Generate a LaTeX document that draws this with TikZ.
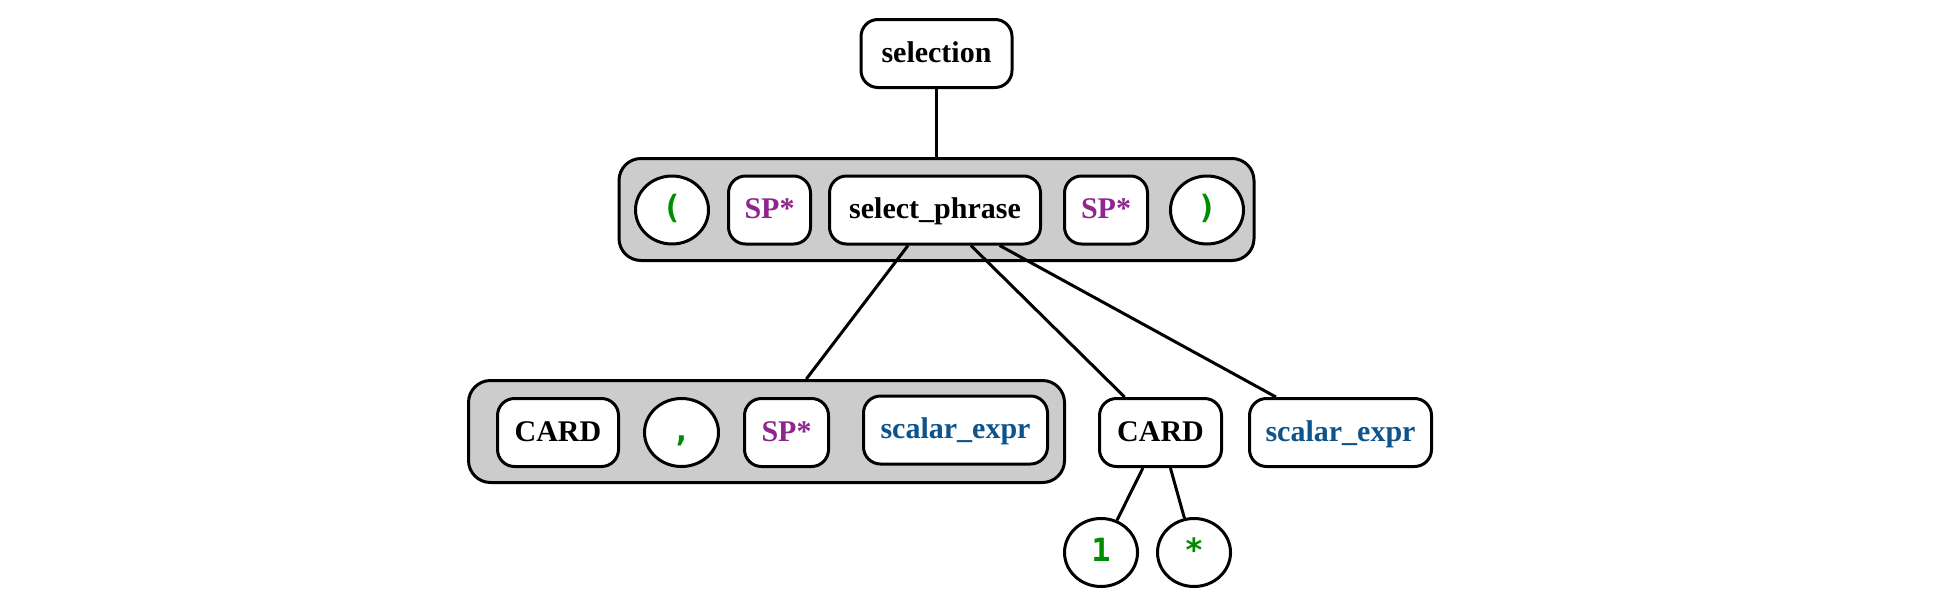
\documentclass[tikz,border=0pt]{standalone}
\usepackage{fontspec}
\setmainfont{Liberation Serif}
\newfontfamily\termfont{DejaVu Sans Mono}
\usetikzlibrary{shapes.geometric}
\definecolor{termgreen}{HTML}{008C00}
\definecolor{sppurple}{HTML}{8E268E}
\definecolor{exprblue}{HTML}{0E548C}
\definecolor{groupgray}{HTML}{CCCCCC}
\begin{document}
\begin{tikzpicture}[x=1pt,y=-1pt,
  base/.style={draw=black, line width=3pt, fill=white, inner sep=0pt,
    text height=20pt, text depth=3pt},
  rulebox/.style={base, rounded corners=17pt, minimum height=68pt,
    font=\fontsize{30}{36}\selectfont\bfseries},
  termell/.style={base, ellipse, minimum width=73pt, minimum height=68pt,
    text=termgreen, font=\fontsize{32}{38}\selectfont\termfont\bfseries},
  spbox/.style={rulebox, text=sppurple},
  exprbox/.style={rulebox, text=exprblue},
  groupbox/.style={draw=black, line width=3pt, fill=groupgray,
    rounded corners=22pt, minimum height=102pt, inner sep=0pt},
  link/.style={draw=black, line width=3pt}
]
\useasboundingbox (0,0) rectangle (1937,611);

% top
\node[rulebox, minimum width=151pt] (selection) at (936.5,53.5) {selection};

% group 1
\node[groupbox, minimum width=635pt] (g1) at (936.5,209.5) {};
\node[termell] (lpar) at (672,210) {(};
\node[spbox, minimum width=82pt] (sp1) at (769.5,210) {SP*};
\node[rulebox, minimum width=211pt] (selph) at (935,210) {select\_phrase};
\node[spbox, minimum width=83pt] (sp2) at (1106,210) {SP*};
\node[termell] (rpar) at (1207,210) {)};

% group 2
\node[groupbox, minimum width=596pt] (g2) at (766.5,431.5) {};
\node[rulebox, minimum width=121pt] (card1) at (558,432.5) {CARD};
\node[termell, minimum width=74pt] (comma) at (681.5,432.5) {,};
\node[spbox, minimum width=84pt] (sp3) at (786.5,432.5) {SP*};
\node[exprbox, minimum width=184pt] (expr1) at (955.5,430) {scalar\_expr};

% right branch
\node[rulebox, minimum width=122pt] (card2) at (1160.5,432.5) {CARD};
\node[exprbox, minimum width=182pt] (expr2) at (1340.5,432.5) {scalar\_expr};
\node[termell] (one) at (1101,552.5) {1};
\node[termell] (star) at (1194,552.5) {*};

% connectors
\draw[link] (selection) -- (g1);
\draw[link] (selph) -- (g2);
\draw[link] (selph) -- (card2);
\draw[link] (selph) -- (expr2);
\draw[link] (card2) -- (one);
\draw[link] (card2) -- (star);
\end{tikzpicture}
\end{document}
